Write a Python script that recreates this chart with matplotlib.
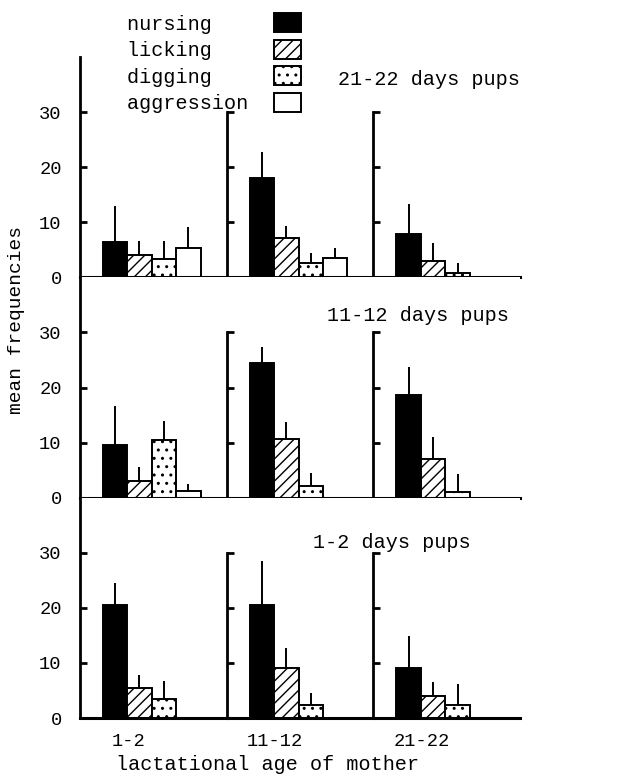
import matplotlib
matplotlib.use("Agg")
import matplotlib.pyplot as plt
from matplotlib.patches import Patch

MONO = "Liberation Mono"

behaviours = ["nursing", "licking", "digging", "aggression"]
mother_ages = ["1-2", "11-12", "21-22"]
pup_ages = ["21-22 days pups", "11-12 days pups", "1-2 days pups"]

# mean frequencies, rows = pup age panel (top to bottom), cols = mother age
means_pups_21 = [[6.5, 4.0, 3.3, 5.3], [18.0, 7.2, 2.6, 3.5], [7.8, 3.0, 0.8, 0.0]]
sd_pups_21 = [[6.5, 2.6, 3.3, 3.8], [4.7, 2.1, 1.9, 1.8], [5.6, 3.3, 1.8, 0.0]]
means_pups_11 = [[9.5, 3.0, 10.5, 1.3], [24.5, 10.7, 2.2, 0.0], [18.6, 7.0, 1.0, 0.0]]
sd_pups_11 = [[7.2, 2.6, 3.4, 1.1], [2.8, 3.0, 2.3, 0.0], [5.2, 4.0, 3.3, 0.0]]
means_pups_1 = [[20.6, 5.5, 3.4, 0.0], [20.6, 9.0, 2.3, 0.0], [9.0, 4.0, 2.4, 0.0]]
sd_pups_1 = [[3.9, 2.4, 3.3, 0.0], [7.9, 3.8, 2.3, 0.0], [5.9, 2.5, 3.8, 0.0]]

means = [means_pups_21, means_pups_11, means_pups_1]
sds = [sd_pups_21, sd_pups_11, sd_pups_1]

styles = [
    dict(color="black", hatch=None),
    dict(color="white", hatch="///"),
    dict(color="white", hatch=".."),
    dict(color="white", hatch=None),
]

plt.rcParams["hatch.linewidth"] = 1.0

fig = plt.figure(figsize=(6.23, 7.76), dpi=100)
axes = fig.subplots(3, 3, sharey=True, gridspec_kw=dict(hspace=0, wspace=0))
fig.subplots_adjust(left=0.128, right=0.835, top=0.9265, bottom=0.0747)

for r in range(3):
    for c in range(3):
        ax = axes[r, c]
        for i, st in enumerate(styles):
            m = means[r][c][i]
            s = sds[r][c][i]
            ax.bar(i, m, width=1.0, color=st["color"], hatch=st["hatch"],
                   edgecolor="black", linewidth=1.4)
            if s > 0:
                ax.errorbar(i, m, yerr=[[0], [s]], fmt="none", ecolor="black",
                            elinewidth=1.4, capsize=0)
        ax.set_xlim(-1.44, 4.56)
        ax.set_ylim(0, 40)
        ax.set_yticks([0, 10, 20, 30])
        ax.spines["top"].set_visible(False)
        ax.spines["right"].set_visible(False)
        ax.spines["left"].set_linewidth(2.0)
        ax.spines["bottom"].set_linewidth(2.2)
        if c > 0:
            ax.spines["left"].set_bounds(0, 30)
        ax.tick_params(axis="y", direction="in", length=5, width=2.0, pad=13,
                       labelleft=(c == 0), labelsize=13.5)
        ax.tick_params(axis="x", length=0, pad=11, labelsize=13.5,
                       labelbottom=(r == 2))
        ax.set_xticks([0.55])
        ax.set_xticklabels([mother_ages[c]])
        for lab in ax.get_xticklabels() + ax.get_yticklabels():
            lab.set_fontfamily(MONO)

# panel titles
title_pos = [(1.0, 0.896), (0.92, 0.827), (0.66, 0.795)]
for r in range(3):
    x, y = title_pos[r]
    axes[r, 2].text(x, y, pup_ages[r], transform=axes[r, 2].transAxes,
                    ha="right", va="center", fontsize=14.5, family=MONO)

fig.text(17 / 623, 1 - 320 / 776, "mean frequencies", rotation=90,
         ha="center", va="center", fontsize=14, family=MONO)
fig.text(268 / 623, 1 - 765 / 776, "lactational age of mother",
         ha="center", va="center", fontsize=14.5, family=MONO)

handles = [Patch(facecolor=st["color"], hatch=st["hatch"], edgecolor="black",
                 linewidth=1.4) for st in styles]
width = max(len(b) for b in behaviours) + 1
labels = [b.ljust(width) for b in behaviours]
fig.legend(handles, labels, loc="upper left", bbox_to_anchor=(127 / 623, 1 - 13 / 776),
           frameon=False, markerfirst=False, borderpad=0, borderaxespad=0,
           handlelength=1.34, handleheight=1.1, handletextpad=0.7,
           labelspacing=0.3, prop=dict(family=MONO, size=14.5))

fig.savefig("out.png", dpi=100)
